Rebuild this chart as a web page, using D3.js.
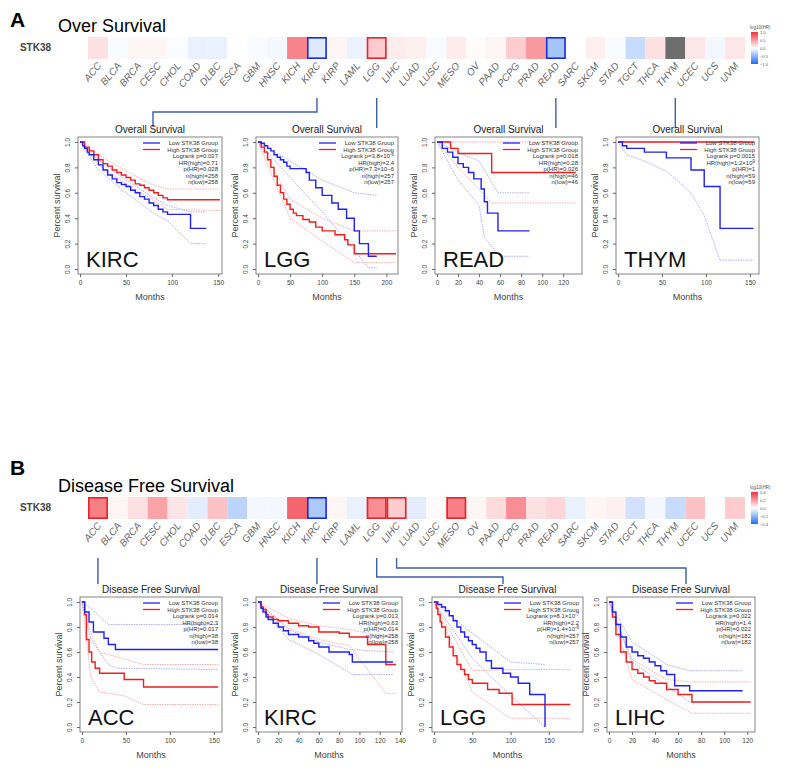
<!DOCTYPE html>
<html><head><meta charset="utf-8">
<script src="https://cdn.jsdelivr.net/npm/d3@7"></script>
<style>body{margin:0;background:#fff}svg{font-family:Arial,"Liberation Sans",sans-serif}</style>
</head><body><svg id="chart"></svg>
<script>
const W = 793, H = 775;
const cancers = ['ACC','BLCA','BRCA','CESC','CHOL','COAD','DLBC','ESCA','GBM','HNSC','KICH','KIRC','KIRP','LAML','LGG','LIHC','LUAD','LUSC','MESO','OV','PAAD','PCPG','PRAD','READ','SARC','SKCM','STAD','TGCT','THCA','THYM','UCEC','UCS','UVM'];
// log10(HR), null = not available
const osHR = [0.15,-0.03,0.05,0.05,-0.02,-0.1,-0.1,0,-0.03,-0.05,0.6,-0.15,0.05,-0.08,0.25,0.1,0.08,-0.03,0.1,0.02,0.05,0.25,0.5,-0.4,0,0.08,-0.03,-0.25,0.15,null,0.12,-0.05,0.12];
const dfsHR = [0.25,0.02,0.06,0.18,0.05,-0.05,0.12,-0.12,-0.02,-0.02,0.3,-0.15,0.02,-0.04,0.22,0.1,-0.05,0.01,0.25,0.02,0.07,0.22,0.06,0.08,-0.04,0.02,0.03,-0.08,-0.02,-0.1,0.12,0,0.1];
const osSig = {KIRC:'blue', LGG:'red', READ:'blue'};
const dfsSig = {ACC:'red', KIRC:'blue', LGG:'red', LIHC:'red', MESO:'red'};

// KM curves: [months, survival]
const osKircLow = [[0,1],[3,0.97],[5,0.95],[8,0.92],[10,0.9],[15,0.86],[20,0.82],[25,0.78],[30,0.74],[35,0.71],[40,0.68],[45,0.665],[50,0.65],[55,0.62],[60,0.6],[65,0.57],[70,0.55],[75,0.52],[80,0.5],[85,0.47],[90,0.45],[95,0.43],[120,0.32],[137,0.32]];
const osKircHigh = [[0,1],[5,0.96],[10,0.93],[15,0.9],[20,0.86],[25,0.83],[30,0.81],[35,0.78],[40,0.76],[45,0.74],[50,0.72],[55,0.7],[60,0.67],[65,0.66],[70,0.64],[75,0.62],[80,0.6],[85,0.58],[90,0.56],[95,0.545],[152,0.545]];
const osKircCI = [[[0,1],[20,0.86],[50,0.7],[80,0.56],[95,0.5],[120,0.45],[137,0.45]],[[0,1],[20,0.78],[50,0.6],[80,0.44],[95,0.38],[120,0.2],[137,0.2]],
  [[0,1],[20,0.9],[50,0.77],[80,0.66],[95,0.63],[152,0.63]],[[0,1],[20,0.82],[50,0.67],[80,0.54],[95,0.47],[152,0.46]]];
const osLggLow = [[0,1],[5,0.99],[10,0.97],[15,0.95],[20,0.93],[25,0.9],[30,0.88],[35,0.86],[40,0.84],[45,0.81],[50,0.79],[75,0.76],[80,0.7],[90,0.64],[100,0.58],[115,0.52],[125,0.47],[138,0.4],[150,0.3],[158,0.2],[172,0.1],[185,0.1]];
const osLggHigh = [[0,1],[5,0.96],[10,0.92],[15,0.86],[20,0.8],[25,0.73],[30,0.66],[35,0.6],[40,0.55],[45,0.51],[50,0.47],[55,0.44],[60,0.42],[70,0.39],[80,0.37],[90,0.33],[100,0.3],[120,0.27],[135,0.23],[140,0.19],[150,0.12],[215,0.12]];
const osLggCI = [[[0,1],[50,0.85],[100,0.7],[150,0.6],[185,0.58]],[[0,1],[50,0.72],[100,0.45],[150,0.15],[172,0.01],[185,0.01]],
  [[0,1],[50,0.55],[100,0.4],[150,0.3],[215,0.3]],[[0,1],[50,0.4],[100,0.22],[150,0.05],[215,0.05]]];
const osReadLow = [[0,1],[5,0.95],[10,0.92],[15,0.88],[20,0.83],[25,0.8],[30,0.76],[35,0.71],[42,0.63],[45,0.53],[48,0.44],[58,0.3],[88,0.3]];
const osReadHigh = [[0,1],[13,0.95],[20,0.91],[52,0.76],[132,0.76]];
const osReadCI = [[[0,1],[20,0.92],[40,0.85],[58,0.6],[88,0.6]],[[0,1],[20,0.7],[40,0.5],[45,0.25],[60,0.1],[88,0.1]],
  [[0,1],[132,1]],[[0,1],[20,0.8],[52,0.52],[132,0.52]]];
const osThymLow = [[0,1],[5,0.97],[10,0.95],[30,0.92],[55,0.875],[83,0.78],[98,0.65],[116,0.32],[154,0.32]];
const osThymHigh = [[0,1],[155,1]];
const osThymCI = [[[0,1],[154,1]],[[0,1],[10,0.9],[30,0.85],[55,0.77],[83,0.6],[98,0.42],[116,0.07],[154,0.07]]];
const dfsAccLow = [[0,1],[3,0.92],[8,0.84],[13,0.76],[25,0.71],[30,0.66],[38,0.62],[155,0.62]];
const dfsAccHigh = [[0,1],[3,0.9],[5,0.7],[8,0.6],[11,0.52],[15,0.47],[20,0.43],[48,0.38],[70,0.32],[155,0.32]];
const dfsAccCI = [[[0,1],[10,0.95],[30,0.82],[155,0.82]],[[0,1],[10,0.7],[30,0.5],[40,0.47],[155,0.46]],
  [[0,1],[10,0.75],[20,0.6],[70,0.5],[155,0.5]],[[0,1],[10,0.4],[20,0.28],[48,0.25],[70,0.18],[155,0.18]]];
const dfsKircLow = [[0,1],[3,0.95],[5,0.92],[8,0.88],[10,0.86],[15,0.83],[20,0.8],[25,0.77],[30,0.74],[40,0.72],[50,0.69],[55,0.67],[60,0.64],[70,0.6],[90,0.58],[93,0.52],[133,0.52]];
const dfsKircHigh = [[0,1],[3,0.96],[5,0.94],[8,0.9],[10,0.88],[15,0.86],[20,0.85],[30,0.83],[40,0.81],[50,0.8],[60,0.76],[80,0.75],[90,0.72],[108,0.66],[126,0.5],[136,0.5]];
const dfsKircCI = [[[0,1],[30,0.78],[60,0.68],[90,0.62],[133,0.6]],[[0,1],[30,0.7],[60,0.58],[93,0.42],[133,0.42]],
  [[0,1],[30,0.87],[60,0.81],[90,0.78],[126,0.72],[136,0.72]],[[0,1],[30,0.79],[60,0.7],[90,0.65],[126,0.27],[136,0.27]]];
const dfsLggLow = [[0,1],[5,0.98],[10,0.96],[15,0.93],[20,0.89],[25,0.85],[30,0.8],[35,0.76],[40,0.72],[45,0.69],[50,0.66],[55,0.63],[60,0.6],[68,0.53],[75,0.47],[90,0.43],[100,0.4],[110,0.35],[125,0.26],[145,0]];
const dfsLggHigh = [[0,1],[3,0.95],[5,0.9],[8,0.84],[10,0.8],[15,0.72],[20,0.64],[25,0.57],[30,0.5],[35,0.46],[40,0.42],[45,0.38],[50,0.35],[70,0.3],[85,0.27],[102,0.18],[178,0.18]];
const dfsLggCI = [[[0,1],[50,0.75],[100,0.52],[145,0.5]],[[0,1],[50,0.55],[100,0.25],[145,0]],
  [[0,1],[50,0.45],[100,0.46],[178,0.46]],[[0,1],[50,0.28],[100,0.07],[178,0.07]]];
const dfsLihcLow = [[0,1],[3,0.92],[6,0.82],[10,0.72],[15,0.64],[20,0.6],[25,0.57],[30,0.55],[35,0.52],[40,0.49],[45,0.45],[50,0.42],[57,0.33],[70,0.29],[116,0.29]];
const dfsLihcHigh = [[0,1],[3,0.88],[6,0.74],[10,0.6],[15,0.52],[20,0.46],[25,0.43],[30,0.4],[35,0.37],[40,0.35],[50,0.3],[60,0.26],[72,0.2],[123,0.2]];
const dfsLihcCI = [[[0,1],[20,0.68],[50,0.5],[70,0.45],[116,0.45]],[[0,1],[20,0.52],[50,0.33],[70,0.2],[116,0.2]],
  [[0,1],[20,0.54],[50,0.38],[72,0.36],[123,0.36]],[[0,1],[20,0.38],[50,0.22],[72,0.11],[123,0.11]]];

const statsOS = [
  ['Logrank p=0.027','HR(high)=0.71','p(HR)=0.028','n(high)=258','n(low)=258'],
  ['Logrank p=3.8\u00d710^-6','HR(high)=2.4','p(HR)=7.3\u00d710\u22126','n(high)=257','n(low)=257'],
  ['Logrank p=0.018','HR(high)=0.28','p(HR)=0.026','n(high)=46','n(low)=46'],
  ['Logrank p=0.0015','HR(high)=1.2\u00d710^9','p(HR)=1','n(high)=59','n(low)=59']];
const statsDFS = [
  ['Logrank p=0.014','HR(high)=2.3','p(HR)=0.017','n(high)=38','n(low)=38'],
  ['Logrank p=0.013','HR(high)=0.63','p(HR)=0.014','n(high)=258','n(low)=258'],
  ['Logrank p=8.1\u00d710^-7','HR(high)=2.2','p(HR)=1.4\u00d710^-6','n(high)=257','n(low)=257'],
  ['Logrank p=0.022','HR(high)=1.4','p(HR)=0.022','n(high)=182','n(low)=182']];

const svg = d3.select('#chart').attr('width', W).attr('height', H);
const hx = d3.scaleBand().domain(cancers).range([88, 745]);

function heatRow(top, title, label, vals, sig, lim) {
  const col = d3.scaleLinear().domain([-lim, 0, lim]).range(['#1f6ff2', '#ffffff', '#f2323c']);
  svg.append('text').attr('x', 58).attr('y', top - 5).text(title).style('font-size', '18px');
  svg.append('text').attr('x', 51).attr('y', top + 14).attr('text-anchor', 'end')
    .text('STK38').style('font-size', '10px').style('font-weight', 'bold').attr('fill', '#444');
  const g = svg.append('g');
  g.selectAll('rect.c').data(cancers).enter().append('rect')
    .attr('x', d => hx(d)).attr('y', top).attr('width', hx.bandwidth()).attr('height', 22)
    .attr('fill', (d, i) => vals[i] === null ? '#6e6e6e' : col(vals[i]));
  g.selectAll('rect.s').data(cancers.filter(d => sig[d])).enter().append('rect')
    .attr('x', d => hx(d) + 0.8).attr('y', top + 0.8).attr('width', hx.bandwidth() - 1.6).attr('height', 20.4)
    .attr('fill', 'none').attr('stroke', d => sig[d] === 'red' ? '#e8232b' : '#1a2ce0').attr('stroke-width', 1.6);
  g.selectAll('text.l').data(cancers).enter().append('text')
    .attr('transform', d => `translate(${hx(d) + hx.bandwidth() / 2 + 4},${top + 29}) rotate(-50)`)
    .attr('text-anchor', 'end').text(d => d).attr('fill', '#666')
    .style('font-size', '10px').style('font-style', 'italic');
  const gid = 'grad' + top;
  const grad = svg.append('defs').append('linearGradient').attr('id', gid).attr('x1', 0).attr('x2', 0).attr('y1', 1).attr('y2', 0);
  [-1, 0, 1].forEach((t, i) => grad.append('stop').attr('offset', i * 50 + '%').attr('stop-color', col(t * lim)));
  svg.append('rect').attr('x', 751).attr('y', top - 5).attr('width', 7).attr('height', 32).attr('fill', `url(#${gid})`);
  svg.append('text').attr('x', 750).attr('y', top - 8).text('log10(HR)').style('font-size', '4.5px').attr('fill', '#555');
  const cb = d3.scaleLinear().domain([-lim, lim]).range([top + 27, top - 5]);
  const tk = lim === 1 ? [-1, -0.5, 0, 0.5, 1] : [-0.4, -0.2, 0, 0.2, 0.4];
  svg.selectAll(null).data(tk).enter().append('text').attr('x', 760).attr('y', d => cb(d) + 1.5)
    .text(d => d3.format('.1f')(d)).style('font-size', '4px').attr('fill', '#555');
}

function connector(pts) {
  svg.append('path').attr('d', d3.line()(pts)).attr('fill', 'none').attr('stroke', '#3b5fa8').attr('stroke-width', 1.4);
}

function supText(sel, s) {
  const parts = s.split('^');
  sel.append('tspan').text(parts[0]);
  if (parts[1]) sel.append('tspan').attr('dy', -2).style('font-size', '4.5px').text(parts[1]);
}

function kmPanel(p) {
  const x = d3.scaleLinear().domain([0, p.xmax]).range([p.x, p.x + p.w]);
  const y = d3.scaleLinear().domain([0, 1]).range([p.y0, p.y1]);
  const g = svg.append('g');
  const top = p.y1 - 5, bot = p.y0 + 5;
  g.append('rect').attr('x', p.x - 2).attr('y', top).attr('width', p.w + 4).attr('height', bot - top)
    .attr('fill', 'none').attr('stroke', '#666').attr('stroke-width', 0.8);
  g.append('text').attr('x', p.x + p.w / 2).attr('y', top - 4).attr('text-anchor', 'middle')
    .text(p.title).style('font-size', '10px').attr('fill', '#222');
  g.append('g').attr('transform', `translate(0,${bot})`)
    .call(d3.axisBottom(x).tickValues(p.ticks).tickSize(3).tickFormat(d3.format('d')))
    .call(a => a.select('.domain').remove())
    .call(a => a.selectAll('text').style('font-size', '6.5px').attr('fill', '#444'))
    .call(a => a.selectAll('line').attr('stroke', '#666'));
  g.append('g').attr('transform', `translate(${p.x - 2},0)`)
    .call(d3.axisLeft(y).tickValues([0, 0.2, 0.4, 0.6, 0.8, 1]).tickSize(3).tickFormat(d3.format('.1f')))
    .call(a => a.select('.domain').remove())
    .call(a => a.selectAll('text').style('font-size', '6.5px').attr('fill', '#444')
      .attr('transform', 'rotate(-90)').attr('x', 0).attr('dx', 0).attr('y', -8).attr('text-anchor', 'middle').attr('dy', '0'))
    .call(a => a.selectAll('line').attr('stroke', '#666'));
  g.append('text').attr('x', p.x + p.w / 2).attr('y', bot + 26).attr('text-anchor', 'middle')
    .text('Months').style('font-size', '9px').attr('fill', '#444');
  g.append('text').attr('transform', `translate(${p.x - 20},${(top + bot) / 2}) rotate(-90)`).attr('text-anchor', 'middle')
    .text('Percent survival').style('font-size', '9px').attr('fill', '#444');
  const step = d3.line().x(d => x(d[0])).y(d => y(d[1])).curve(d3.curveStepAfter);
  const smooth = d3.line().x(d => x(d[0])).y(d => y(d[1]));
  p.ci.forEach((c, i) => g.append('path').attr('d', smooth(c)).attr('fill', 'none')
    .attr('stroke', (p.ci.length === 2 || i < 2) ? '#9a9af5' : '#f39a9a').attr('stroke-width', 0.8).attr('stroke-dasharray', '1.5,1'));
  g.append('path').attr('d', step(p.high)).attr('fill', 'none').attr('stroke', '#f01e1e').attr('stroke-width', 1.4);
  g.append('path').attr('d', step(p.low)).attr('fill', 'none').attr('stroke', '#2020f0').attr('stroke-width', 1.4);
  const lx = p.x + p.w - 2;
  [['Low STK38 Group', '#2020f0'], ['High STK38 Group', '#f01e1e']].forEach((l, i) => {
    g.append('line').attr('x1', lx - 75).attr('x2', lx - 58).attr('y1', top + 6 + i * 6.5).attr('y2', top + 6 + i * 6.5)
      .attr('stroke', l[1]).attr('stroke-width', 1.3);
    g.append('text').attr('x', lx).attr('y', top + 8 + i * 6.5).attr('text-anchor', 'end').text(l[0])
      .style('font-size', '6px').attr('fill', '#333');
  });
  p.stats.forEach((s, i) => supText(g.append('text').attr('x', lx).attr('y', top + 21 + i * 6.5)
    .attr('text-anchor', 'end').style('font-size', '6px').attr('fill', '#333'), s));
  g.append('text').attr('x', p.x + 6).attr('y', p.y0 - 2).text(p.name).style('font-size', '22px').attr('fill', '#111');
}

// Section A
svg.append('text').attr('x', 10).attr('y', 27).text('A').style('font-size', '21px').style('font-weight', 'bold');
heatRow(37, 'Over Survival', 'STK38', osHR, osSig, 1);
const cx = d => hx(d) + hx.bandwidth() / 2;
connector([[cx('KIRC'), 98], [cx('KIRC'), 112], [153, 112], [153, 127]]);
connector([[cx('LGG'), 98], [cx('LGG'), 128]]);
connector([[cx('READ'), 98], [cx('READ'), 128]]);
connector([[cx('THYM'), 98], [cx('THYM'), 128]]);

const aY0 = 269, aY1 = 142;
kmPanel({x: 80, w: 140, xmax: 152, y0: aY0, y1: aY1, ticks: [0, 50, 100, 150], title: 'Overall Survival', name: 'KIRC', low: osKircLow, high: osKircHigh, ci: osKircCI, stats: statsOS[0]});
kmPanel({x: 258, w: 138, xmax: 215, y0: aY0, y1: aY1, ticks: [0, 50, 100, 150, 200], title: 'Overall Survival', name: 'LGG', low: osLggLow, high: osLggHigh, ci: osLggCI, stats: statsOS[1]});
kmPanel({x: 437, w: 143, xmax: 136, y0: aY0, y1: aY1, ticks: [0, 20, 40, 60, 80, 100, 120], title: 'Overall Survival', name: 'READ', low: osReadLow, high: osReadHigh, ci: osReadCI, stats: statsOS[2]});
kmPanel({x: 618, w: 139, xmax: 158, y0: aY0, y1: aY1, ticks: [0, 50, 100, 150], title: 'Overall Survival', name: 'THYM', low: osThymLow, high: osThymHigh, ci: osThymCI, stats: statsOS[3]});

// Section B
svg.append('text').attr('x', 10).attr('y', 475).text('B').style('font-size', '21px').style('font-weight', 'bold');
heatRow(497, 'Disease Free Survival', 'STK38', dfsHR, dfsSig, 0.4);
connector([[cx('ACC'), 558], [cx('ACC'), 584]]);
connector([[cx('KIRC'), 558], [cx('KIRC'), 584]]);
connector([[cx('LGG'), 558], [cx('LGG'), 577], [503, 577], [503, 584]]);
connector([[cx('LIHC'), 558], [cx('LIHC'), 568], [686, 568], [686, 584]]);

const bY0 = 727, bY1 = 602;
kmPanel({x: 82, w: 138, xmax: 157, y0: bY0, y1: bY1, ticks: [0, 50, 100, 150], title: 'Disease Free Survival', name: 'ACC', low: dfsAccLow, high: dfsAccHigh, ci: dfsAccCI, stats: statsDFS[0]});
kmPanel({x: 258, w: 142, xmax: 140, y0: bY0, y1: bY1, ticks: [0, 20, 40, 60, 80, 100, 120, 140], title: 'Disease Free Survival', name: 'KIRC', low: dfsKircLow, high: dfsKircHigh, ci: dfsKircCI, stats: statsDFS[1]});
kmPanel({x: 434, w: 147, xmax: 192, y0: bY0, y1: bY1, ticks: [0, 50, 100, 150], title: 'Disease Free Survival', name: 'LGG', low: dfsLggLow, high: dfsLggHigh, ci: dfsLggCI, stats: statsDFS[2]});
kmPanel({x: 609, w: 144, xmax: 125, y0: bY0, y1: bY1, ticks: [0, 20, 40, 60, 80, 100, 120], title: 'Disease Free Survival', name: 'LIHC', low: dfsLihcLow, high: dfsLihcHigh, ci: dfsLihcCI, stats: statsDFS[3]});
</script></body></html>
